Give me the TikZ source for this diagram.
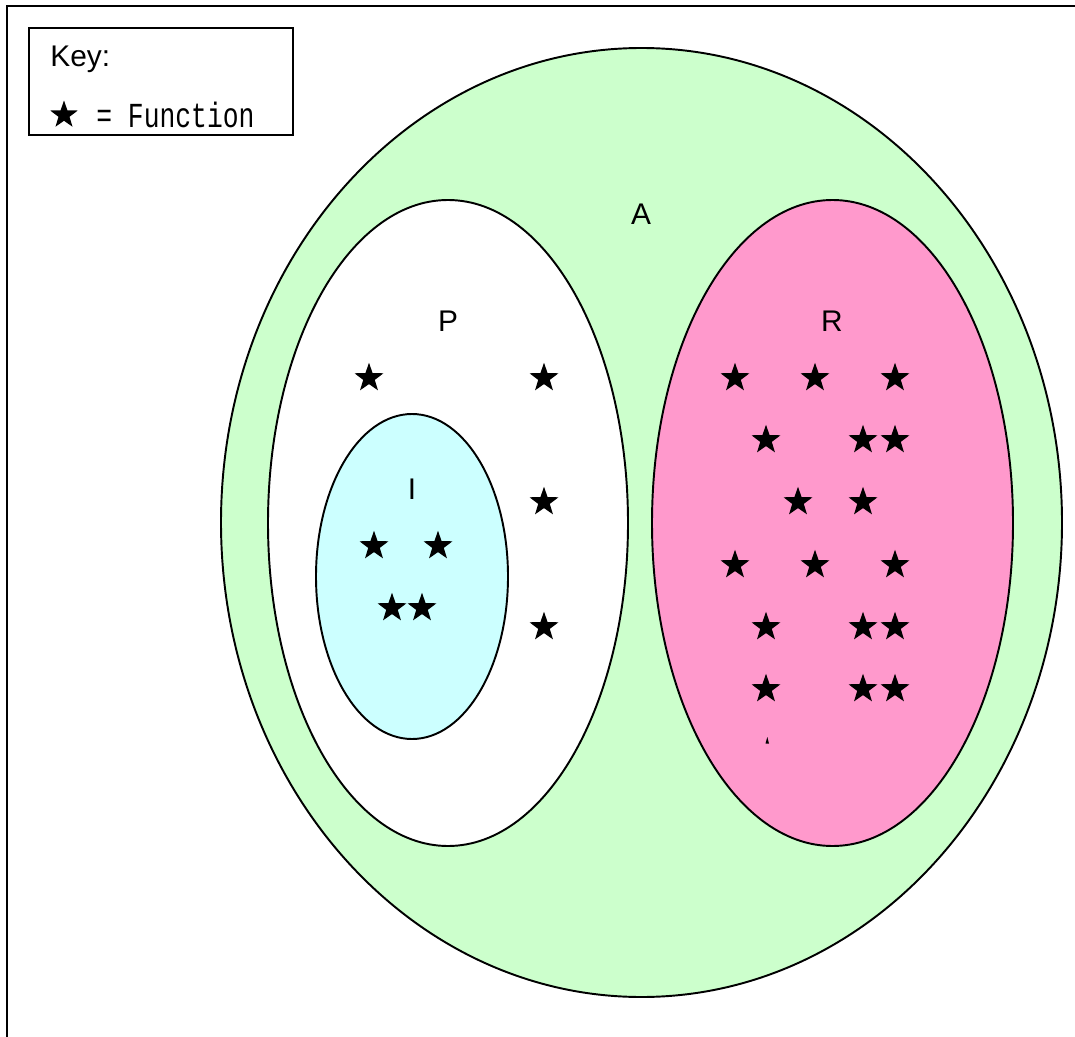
\documentclass[tikz,border=0pt]{standalone}
\usepackage{fontspec}
\setmainfont{Liberation Sans}
\newfontfamily\keyfont[FakeStretch=0.75]{Liberation Mono}
\usetikzlibrary{shapes.geometric}
\definecolor{setA}{HTML}{CCFFCC}
\definecolor{setR}{HTML}{FF99CC}
\definecolor{setI}{HTML}{CCFFFF}

\tikzset{
    setline/.style={draw=black, line width=1.1pt},
    setlabel/.style={font=\fontsize{17}{20}\selectfont, inner sep=0pt},
    fn/.style={star, star points=5, star point ratio=2.5, fill=black, draw=none,
        inner sep=0pt, minimum size=0.61cm}
}

\begin{document}
\begin{tikzpicture}[x=0.02cm, y=-0.02cm]
    \useasboundingbox (0,0) rectangle (1075,1037);

    % Frame (top and left edges only)
    \draw[line width=1.1pt] (1075,6) -- (7,6) -- (7,1037);

    % Key
    \draw[line width=1pt] (29,28) rectangle (293,135);
    \node[setlabel, anchor=west] (keytitle) at (50,59) {Key:};
    \node[fn, minimum size=0.58cm] (keystar) at (64,115) {};
    \node[anchor=west, inner sep=0pt, font=\keyfont\fontsize{20}{22}\selectfont]
        (keytext) at (96,115) {= Function};

    % Sets
    \filldraw[setline, fill=setA] (641.5,522.5) ellipse (420.5 and 474.5);
    \filldraw[setline, fill=white] (448,523) ellipse (180 and 323);
    \filldraw[setline, fill=setI] (412,576.5) ellipse (96 and 162.5);
    \filldraw[setline, fill=setR] (832.5,523) ellipse (180.5 and 323);

    \node[setlabel] (labA) at (641,214) {A};
    \node[setlabel] (labP) at (448,321) {P};
    \node[setlabel] (labI) at (412,489) {I};
    \node[setlabel] (labR) at (832,321) {R};

    % Functions in P
    \foreach \x/\y [count=\i] in {369/378, 544/378, 544/502, 544/627}
        \node[fn] (p\i) at (\x,\y) {};
    % Functions in I
    \foreach \x/\y [count=\i] in {374/546, 438/546, 392/608, 422/608}
        \node[fn] (i\i) at (\x,\y) {};
    % Functions in R
    \foreach \x/\y [count=\i] in {735/378, 815/378, 895/378,
            766/440, 863/440, 895/440,
            798/502, 863/502,
            735/565, 815/565, 895/565,
            766/627, 863/627, 895/627,
            766/689, 863/689, 895/689}
        \node[fn] (r\i) at (\x,\y) {};
    % stray tip below the last row
    \fill (765.5,743.5) -- (767.3,737) -- (769,743.5) -- cycle;
\end{tikzpicture}
\end{document}
